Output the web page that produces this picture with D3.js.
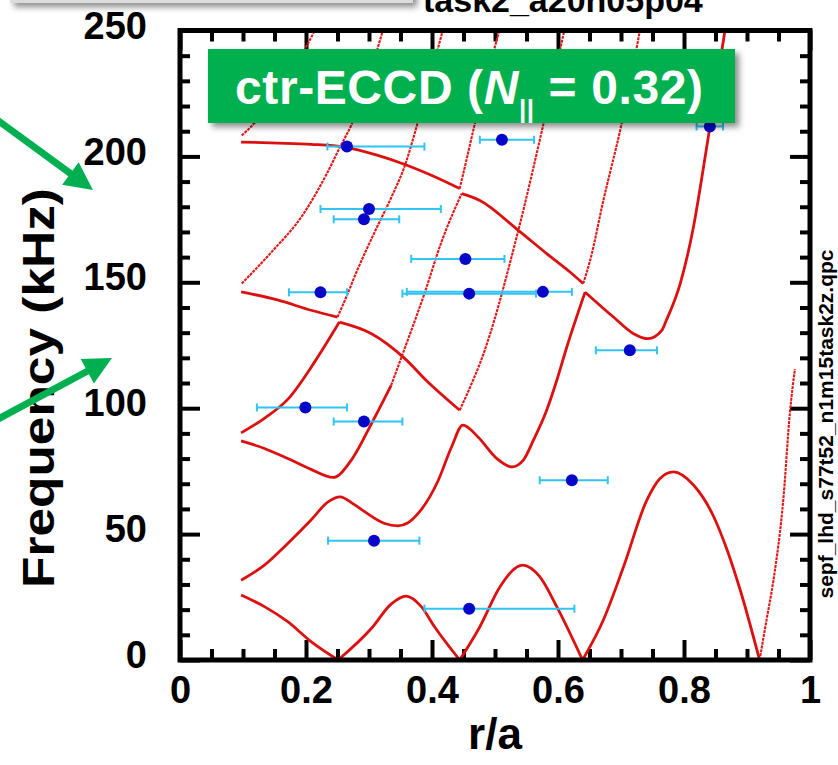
<!DOCTYPE html>
<html>
<head>
<meta charset="utf-8">
<script src="https://cdn.jsdelivr.net/npm/d3@7"></script>
<style>
  body { margin: 0; background: #fff; }
  svg { display: block; }
  text { font-family: "Liberation Sans", Arial, Helvetica, sans-serif; font-weight: bold; }
</style>
</head>
<body>
<div id="grafica"></div>
<script>
// ejes
const xTicks = [0, 0.2, 0.4, 0.6, 0.8, 1];
const yTicks = [0, 50, 100, 150, 200, 250];
const xMinor = d3.range(0, 1.0001, 0.05).filter(v => Math.abs(v * 5 - Math.round(v * 5)) > 1e-6);
const yMinor = d3.range(0, 251, 10).filter(v => v % 50 !== 0);

// ramas del continuo de Alfvén  [r/a, f (kHz)]
const branchA1 = [[0.097,25.8],[0.134,21.2],[0.171,15.2],[0.208,7.3],[0.251,0]];
const branchA2 = [[0.251,0],[0.304,12.6],[0.335,22.2],[0.359,25.4],[0.383,21.2],[0.404,13.2],[0.444,0]];
const branchA3 = [[0.444,0],[0.476,13.2],[0.508,29.1],[0.544,37.7],[0.571,33.1],[0.598,21.2],[0.639,0]];
const branchA4 = [[0.639,0],[0.672,15.9],[0.704,37],[0.741,63.5],[0.762,72.1],[0.783,74.7],[0.815,69.5],[0.847,57],[0.868,44],[0.889,28],[0.92,0]];
const branchA5 = [[0.92,0],[0.931,15.9],[0.942,31.7],[0.958,64.8],[0.968,97.9],[0.976,115.5]];
const branchB1 = [[0.097,31.7],[0.134,37.7],[0.171,46.3],[0.208,55.6],[0.235,62.8],[0.254,64.8],[0.275,62],[0.293,58.9],[0.325,54.2],[0.346,53.3],[0.362,54.5],[0.378,58.2],[0.41,71.4],[0.431,84.6],[0.449,93.3],[0.473,88.6],[0.503,80],[0.527,76.7],[0.545,79.4],[0.561,87.3],[0.582,99.2],[0.598,111],[0.614,124.3],[0.643,146.1]];
const branchB2 = [[0.643,146.1],[0.688,136.2],[0.72,129.6],[0.743,127.6],[0.765,131],[0.772,134.9],[0.794,149.5],[0.815,172],[0.831,195.8],[0.841,211.6],[0.865,250]];
const branchC1 = [[0.097,87],[0.134,84],[0.171,80],[0.208,75.7],[0.243,72.5],[0.272,79.4],[0.304,93.9],[0.335,109]];
const branchC2 = [[0.335,109],[0.36,126],[0.388,145.5],[0.415,166],[0.447,185.2]];
const branchC3 = [[0.447,185.2],[0.476,182.5],[0.537,170.6],[0.582,161.4],[0.619,154.1],[0.64,149.5]];
const branchC4 = [[0.64,149.5],[0.651,158.7],[0.672,182.5],[0.701,213],[0.73,250]];
const branchE1 = [[0.097,90.2],[0.134,96],[0.171,103.5],[0.214,118.5],[0.253,134.2]];
const branchE2 = [[0.253,134.2],[0.304,129.6],[0.357,119.7],[0.391,111],[0.444,99.2]];
const branchE3 = [[0.444,99.2],[0.465,111],[0.476,117.7],[0.537,170.6],[0.577,213],[0.61,250]];
const branchD1 = [[0.097,146.2],[0.156,142.9],[0.208,138.9],[0.25,136.2]];
const branchD2 = [[0.25,136.2],[0.262,143],[0.28,154],[0.31,170.5],[0.335,183.5],[0.357,196.4],[0.378,214],[0.417,250]];
const branchF  = [[0.098,149.5],[0.143,161.4],[0.196,177.2],[0.233,193.1],[0.254,203.7],[0.273,213],[0.322,250]];
const branchS  = [[0.098,208.3],[0.122,214.3],[0.16,228],[0.198,242.5],[0.214,250]];
const branchT1 = [[0.097,205.7],[0.156,205.3],[0.208,204.8],[0.261,203.7],[0.314,200.4],[0.357,196.8],[0.399,192.5],[0.444,187.2]];
const branchT2 = [[0.444,187.2],[0.456,200],[0.468,213],[0.507,250]];

const solidBranches = [branchA1, branchA2, branchA3, branchA4, branchB1, branchB2, branchC1, branchC3, branchE1, branchE2, branchD1, branchT1];
const thinBranches = [branchA5, branchC2, branchC4, branchE3, branchD2, branchF, branchS, branchT2];

// modos observados
const modeR  = [0.265, 0.300, 0.292, 0.453, 0.459, 0.576, 0.223, 0.511, 0.841, 0.714, 0.199, 0.292, 0.308, 0.459, 0.622];
const modeF  = [203.9, 179.1, 175.0, 159.3, 145.5, 146.2, 146.0, 206.6, 211.9, 123.0, 100.3, 94.7, 47.4, 20.4, 71.4];
const errLo  = [0.234, 0.223, 0.244, 0.367, 0.353, 0.360, 0.173, 0.476, 0.820, 0.660, 0.122, 0.244, 0.235, 0.388, 0.571];
const errHi  = [0.388, 0.414, 0.348, 0.515, 0.565, 0.622, 0.265, 0.562, 0.862, 0.757, 0.265, 0.353, 0.380, 0.626, 0.679];

// flechas de la diapositiva (px)
const arrows = [[[0, 122], [93, 190]], [[0, 418], [112, 358]]];

const anchoTotal = 838, altoTotal = 765;
const margin = {top: 30.5, right: 28, bottom: 105, left: 180};
const width = anchoTotal - margin.left - margin.right;
const height = altoTotal - margin.top - margin.bottom;

const svg = d3.select("#grafica").append("svg")
  .attr("width", anchoTotal)
  .attr("height", altoTotal);

const defs = svg.append("defs");
const sombra = defs.append("filter").attr("id", "sombra")
  .attr("x", "-10%").attr("y", "-30%").attr("width", "130%").attr("height", "170%");
sombra.append("feDropShadow").attr("dx", 4).attr("dy", 4).attr("stdDeviation", 3)
  .attr("flood-color", "#000").attr("flood-opacity", 0.45);
defs.append("clipPath").attr("id", "clip").append("rect")
  .attr("width", width).attr("height", height);

// caja gris y título recortado arriba
svg.append("rect").attr("x", 10).attr("y", -60).attr("width", 403).attr("height", 63)
  .attr("fill", "#dcdcdc").attr("filter", "url(#sombra)");
svg.append("text").attr("x", 423).attr("y", 12).attr("font-size", 34).attr("fill", "#000")
  .text("task2_a20n05p04");

const g = svg.append("g").attr("transform", `translate(${margin.left}, ${margin.top})`);

const x = d3.scaleLinear().domain([0, 1]).range([0, width]);
const y = d3.scaleLinear().domain([0, 250]).range([height, 0]);

function estiloEje(sel, conTexto) {
  sel.select(".domain").remove();
  sel.selectAll("line").attr("stroke", "#000").attr("stroke-width", 4);
  sel.attr("font-size", 38).attr("font-family", "'Liberation Sans', Arial, sans-serif").attr("font-weight", "bold");
  if (conTexto) sel.selectAll("text").attr("fill", "#000");
}

// ejes mayores y menores en los cuatro lados
g.append("g").attr("transform", `translate(0,${height})`)
  .call(d3.axisBottom(x).tickValues(xTicks).tickFormat(d => d).tickSize(-20).tickPadding(16))
  .call(s => estiloEje(s, true));
g.append("g").attr("transform", `translate(0,${height})`)
  .call(d3.axisBottom(x).tickValues(xMinor).tickFormat("").tickSize(-11))
  .call(s => estiloEje(s, false));
g.append("g")
  .call(d3.axisTop(x).tickValues(xTicks).tickFormat("").tickSize(-20))
  .call(s => estiloEje(s, false));
g.append("g")
  .call(d3.axisTop(x).tickValues(xMinor).tickFormat("").tickSize(-11))
  .call(s => estiloEje(s, false));
g.append("g")
  .call(d3.axisLeft(y).tickValues(yTicks).tickSize(-20).tickPadding(33))
  .call(s => estiloEje(s, true))
  .selectAll("text").attr("dy", "0.2em");
g.append("g")
  .call(d3.axisLeft(y).tickValues(yMinor).tickFormat("").tickSize(-10))
  .call(s => estiloEje(s, false));
g.append("g").attr("transform", `translate(${width},0)`)
  .call(d3.axisRight(y).tickValues(yTicks).tickFormat("").tickSize(-20))
  .call(s => estiloEje(s, false));
g.append("g").attr("transform", `translate(${width},0)`)
  .call(d3.axisRight(y).tickValues(yMinor).tickFormat("").tickSize(-10))
  .call(s => estiloEje(s, false));

// continuo
const valueline = d3.line()
  .x(d => x(d[0]))
  .y(d => y(d[1]))
  .curve(d3.curveMonotoneX);

const curvas = g.append("g").attr("clip-path", "url(#clip)");
curvas.selectAll("path.solida").data(solidBranches).join("path")
  .attr("class", "solida")
  .attr("d", valueline)
  .attr("fill", "none")
  .attr("stroke", "#dd1010")
  .attr("stroke-width", 2.8)
  .attr("stroke-linejoin", "round");
curvas.selectAll("path.fina").data(thinBranches).join("path")
  .attr("class", "fina")
  .attr("d", valueline)
  .attr("fill", "none")
  .attr("stroke", "#e01818")
  .attr("stroke-width", 2.1)
  .attr("stroke-dasharray", "3 0.9");

// barras de error y puntos
const idx = d3.range(modeR.length);
const barras = g.append("g").attr("stroke", "#30c4f2").attr("stroke-width", 2);
barras.selectAll("line.h").data(idx).join("line").attr("class", "h")
  .attr("x1", i => x(errLo[i])).attr("x2", i => x(errHi[i]))
  .attr("y1", i => y(modeF[i])).attr("y2", i => y(modeF[i]));
barras.selectAll("line.lo").data(idx).join("line").attr("class", "lo")
  .attr("x1", i => x(errLo[i])).attr("x2", i => x(errLo[i]))
  .attr("y1", i => y(modeF[i]) - 4).attr("y2", i => y(modeF[i]) + 4);
barras.selectAll("line.hi").data(idx).join("line").attr("class", "hi")
  .attr("x1", i => x(errHi[i])).attr("x2", i => x(errHi[i]))
  .attr("y1", i => y(modeF[i]) - 4).attr("y2", i => y(modeF[i]) + 4);
g.append("g").selectAll("circle").data(idx).join("circle")
  .attr("cx", i => x(modeR[i])).attr("cy", i => y(modeF[i])).attr("r", 6)
  .attr("fill", "#0606c8");

// marco
g.append("rect").attr("width", width).attr("height", height)
  .attr("fill", "none").attr("stroke", "#000").attr("stroke-width", 5);

// títulos de ejes
svg.append("text").attr("x", margin.left + width / 2).attr("y", 749)
  .attr("text-anchor", "middle").attr("font-size", 44).text("r/a");
svg.append("text").attr("transform", "translate(54, 388) rotate(-90)")
  .attr("text-anchor", "middle").attr("font-size", 44)
  .attr("textLength", 400).attr("lengthAdjust", "spacingAndGlyphs")
  .text("Frequency (kHz)");
svg.append("text").attr("transform", "translate(833, 424) rotate(-90)")
  .attr("text-anchor", "middle").attr("font-size", 21).text("sepf_lhd_s77t52_n1m15task2z.qpc");

// etiqueta verde
const etiqueta = svg.append("g");
etiqueta.append("rect").attr("x", 208).attr("y", 49).attr("width", 527).attr("height", 74)
  .attr("fill", "#00b050").attr("filter", "url(#sombra)");
const t = etiqueta.append("text").attr("x", 235).attr("y", 104).attr("font-size", 48)
  .attr("letter-spacing", 0.6).attr("fill", "#fff");
t.append("tspan").text("ctr-ECCD (");
t.append("tspan").attr("font-style", "italic").text("N");
t.append("tspan").attr("font-size", 26).attr("dy", 14).text("||");
t.append("tspan").attr("dy", -14).text(" = 0.32)");

// flechas verdes
arrows.forEach(([a, b]) => {
  const dx = b[0] - a[0], dy = b[1] - a[1], L = Math.hypot(dx, dy);
  const ux = dx / L, uy = dy / L, head = 28, half = 14;
  const bx = b[0] - ux * head, by = b[1] - uy * head;
  svg.append("line").attr("x1", a[0] - ux * 20).attr("y1", a[1] - uy * 20)
    .attr("x2", bx + ux * 2).attr("y2", by + uy * 2)
    .attr("stroke", "#00b050").attr("stroke-width", 7);
  svg.append("polygon")
    .attr("points", [[b[0], b[1]], [bx - uy * half, by + ux * half], [bx + uy * half, by - ux * half]].map(p => p.join(",")).join(" "))
    .attr("fill", "#00b050");
});
</script>
</body>
</html>
